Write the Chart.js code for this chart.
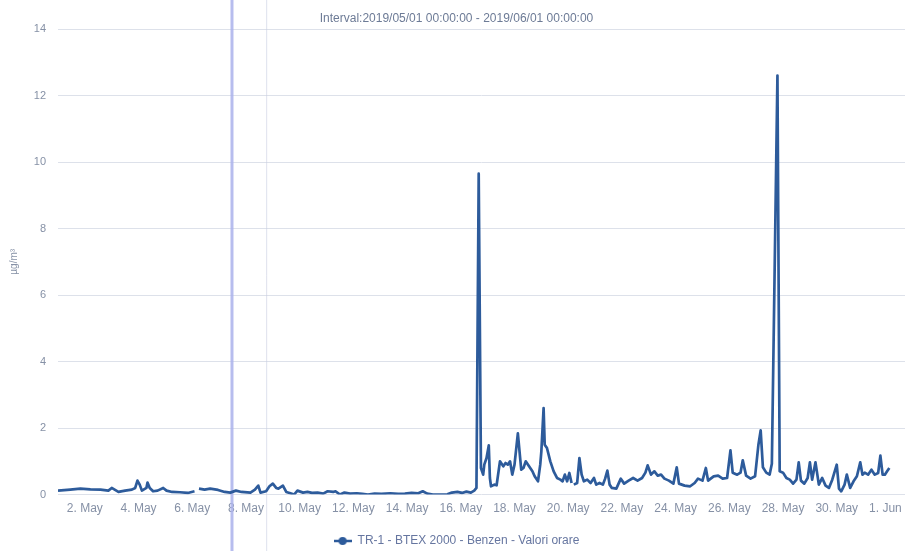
<!DOCTYPE html>
<html>
<head>
<meta charset="utf-8">
<script src="https://cdn.jsdelivr.net/npm/chart.js@4/dist/chart.umd.min.js"></script>
<style>
  html, body { margin: 0; padding: 0; background: #ffffff; }
  #wrap { width: 905px; height: 551px; position: relative; }
</style>
</head>
<body>
<div id="wrap"><canvas id="c" width="905" height="551"></canvas></div>
<script>
// Hours since 2019/05/01 00:00 and hourly benzene values (µg/m³)
const hours = [0,11,20,29,38,45,48,54,60,66,69,71,73,75,79,80,82,85,89,94,97,102,109,116,122,124,126,131,136,143,149,154,159,164,172,176,179,181,186,189,192,195,197,201,204,207,211,214,219,223,227,232,237,241,246,248,252,256,261,267,272,277,283,289,297,304,310,316,322,326,330,335,341,348,352,357,361,365,369,372,374,376,378,380,381,383,385,386,387,390,392,395,398,400,402,404,406,408,411,414,416,418,421,424,426,429,431,432,434,435,437,440,443,446,449,451,453,455,457,459,460,461,464,466,468,470,473,476,479,481,484,487,489,491,493,495,499,503,506,510,514,518,522,525,527,530,533,536,539,542,546,550,553,555,560,565,569,572,576,579,581,586,590,594,598,601,603,607,610,612,615,619,623,626,628,630,633,636,638,643,645,648,651,654,657,660,662,664,667,670,672,674,677,680,683,686,689,692,696,698,700,703,705,708,711,714,717,719,721,724,727,730,733,735,737,739,741,743];
const values = [0.12,0.15,0.18,0.16,0.15,0.12,0.2,0.08,0.12,0.15,0.2,0.42,0.3,0.12,0.2,0.36,0.2,0.1,0.12,0.2,0.12,0.08,0.07,0.05,0.1,null,0.18,0.15,0.18,0.14,0.08,0.06,0.12,0.08,0.06,0.15,0.27,0.06,0.1,0.25,0.33,0.2,0.18,0.27,0.08,0.05,0.0,0.12,0.06,0.08,0.05,0.06,0.03,0.1,0.08,0.1,0.0,0.06,0.03,0.04,0.02,0.0,0.03,0.02,0.04,0.02,0.03,0.05,0.04,0.1,0.03,0.0,0.0,0.01,0.06,0.08,0.05,0.09,0.06,0.12,0.2,9.65,0.8,0.6,0.9,1.1,1.48,0.5,0.25,0.3,0.28,1.0,0.85,0.95,0.9,1.0,0.6,0.9,1.84,0.75,0.8,1.0,0.85,0.7,0.55,0.4,0.9,1.3,2.6,1.5,1.4,1.0,0.7,0.5,0.45,0.4,0.6,0.4,0.65,0.35,null,0.3,0.35,1.1,0.6,0.4,0.45,0.35,0.5,0.3,0.35,0.3,0.48,0.72,0.3,0.2,0.18,0.48,0.33,0.42,0.5,0.42,0.5,0.66,0.88,0.6,0.7,0.57,0.6,0.48,0.42,0.33,0.82,0.33,0.27,0.25,0.35,0.48,0.42,0.8,0.42,0.55,0.57,0.48,0.5,1.33,0.66,0.6,0.66,1.03,0.57,0.48,0.55,1.5,1.93,0.82,0.66,0.6,0.93,12.6,0.7,0.66,0.5,0.45,0.33,0.45,0.97,0.42,0.33,0.5,0.97,0.45,0.97,0.3,0.5,0.27,0.2,0.45,0.9,0.18,0.1,0.3,0.6,0.2,0.4,0.55,0.97,0.6,0.66,0.6,0.75,0.6,0.65,1.17,0.6,0.6,0.7,0.8];

// x-axis ticks (hours since 1 May) and their labels
const tickHours = [24,72,120,168,216,264,312,360,408,456,504,552,600,648,696,744];
const tickLabels = ['2. May','4. May','6. May','8. May','10. May','12. May','14. May','16. May','18. May','20. May','22. May','24. May','26. May','28. May','30. May','1. Jun'];
const yTicks = [0,2,4,6,8,10,12,14];

const titleText = 'Interval:2019/05/01 00:00:00 - 2019/06/01 00:00:00';
const seriesName = 'TR-1 - BTEX 2000 - Benzen - Valori orare';
const yTitle = 'µg/m³';
const bandHour = 155.5;   // highlighted vertical line
const thinHour = 186.5;   // faint vertical line

const lineColor = '#2d5b9b';

// legend symbol: line with circle marker
const sym = document.createElement('canvas');
sym.width = 18; sym.height = 10;
(function(){
  const g = sym.getContext('2d');
  g.strokeStyle = lineColor; g.lineWidth = 2.5;
  g.beginPath(); g.moveTo(0,5); g.lineTo(18,5); g.stroke();
  g.fillStyle = lineColor; g.beginPath(); g.arc(9,5,4,0,Math.PI*2); g.fill();
})();

const vLines = {
  id: 'vLines',
  beforeDatasetsDraw(chart) {
    const g = chart.ctx, xs = chart.scales.x;
    g.save();
    let px = xs.getPixelForValue(thinHour);
    g.strokeStyle = 'rgba(200,205,225,0.6)'; g.lineWidth = 1;
    g.beginPath(); g.moveTo(px, 0); g.lineTo(px, chart.height); g.stroke();
    px = xs.getPixelForValue(bandHour);
    g.strokeStyle = 'rgba(170,178,235,0.85)'; g.lineWidth = 3;
    g.beginPath(); g.moveTo(px, 0); g.lineTo(px, chart.height); g.stroke();
    g.restore();
  }
};

new Chart(document.getElementById('c'), {
  type: 'line',
  data: {
    datasets: [{
      label: seriesName,
      data: hours.map((h, i) => ({ x: h, y: values[i] })),
      borderColor: lineColor,
      backgroundColor: lineColor,
      borderWidth: 2.7,
      pointRadius: 0,
      pointStyle: sym,
      tension: 0,
      spanGaps: false,
      borderJoinStyle: 'round'
    }]
  },
  options: {
    responsive: false,
    animation: false,
    layout: { padding: { left: 8, right: 0, top: 0, bottom: -6 } },
    plugins: {
      title: {
        display: true,
        text: titleText,
        color: '#6d7b96',
        font: { family: 'Liberation Sans, Arial, sans-serif', size: 12, weight: 'normal' },
        padding: { top: 11, bottom: 3.6 }
      },
      legend: {
        position: 'bottom',
        labels: {
          usePointStyle: true,
          pointStyleWidth: 18,
          color: '#6676a0',
          font: { family: 'Liberation Sans, Arial, sans-serif', size: 12 },
          padding: 12
        }
      },
      tooltip: { enabled: false }
    },
    scales: {
      x: {
        type: 'linear',
        min: 0,
        max: 757,
        afterBuildTicks: s => { s.ticks = tickHours.map(v => ({ value: v })); },
        afterFit: s => { s.paddingLeft = 0; s.paddingRight = 0; },
        ticks: {
          autoSkip: false, maxRotation: 0, minRotation: 0,
          color: '#8691a6',
          font: { family: 'Liberation Sans, Arial, sans-serif', size: 12 },
          padding: 7,
          callback: (v, i) => i === tickLabels.length - 1 ? tickLabels[i] + '   ' : tickLabels[i]
        },
        grid: { display: false, drawTicks: false },
        border: { display: false }
      },
      y: {
        min: 0,
        max: 14,
        afterBuildTicks: s => { s.ticks = yTicks.map(v => ({ value: v })); },
        afterFit: s => { s.width = 50; },
        ticks: {
          color: '#8691a6',
          font: { family: 'Liberation Sans, Arial, sans-serif', size: 11 },
          padding: 12
        },
        grid: { color: '#dde1ea', lineWidth: 1, drawTicks: false },
        border: { display: false },
        title: {
          display: true,
          text: yTitle,
          color: '#8691a6',
          font: { family: 'Liberation Sans, Arial, sans-serif', size: 10 },
          padding: { top: 0, bottom: 4 }
        }
      }
    }
  },
  plugins: [vLines]
});
</script>
</body>
</html>
